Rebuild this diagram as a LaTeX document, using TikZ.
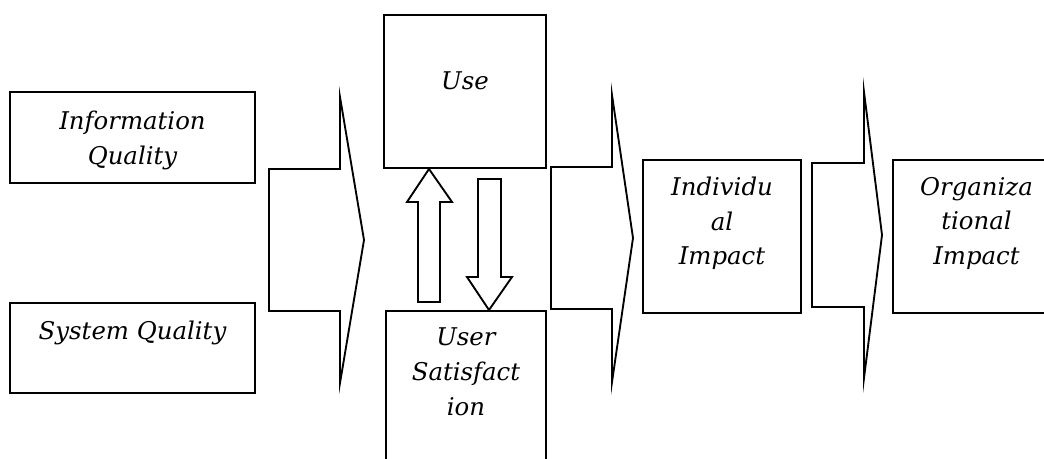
\documentclass[tikz,border=0pt]{standalone}
\usepackage{fontspec}
\setmainfont{DejaVu Serif}
\usepackage{tikz}
\usetikzlibrary{calc,fit,positioning}

\begin{document}
\begin{tikzpicture}[x=0.75pt,y=-0.75pt,line width=1.4pt]

\tikzset{box/.style={draw,inner sep=0pt,line join=miter},
lbl/.style={font=\fontsize{18.3}{26}\selectfont\itshape,align=center,inner sep=0pt,anchor=north},
blockarrow/.style={draw,line join=miter,miter limit=20}}

\useasboundingbox (0,0) rectangle (1044,459);

% Boxes
\node[box,fit={(10,92) (255,183)}] (info) {};
\node[box,fit={(10,303) (255,393)}] (sys) {};
\node[box,fit={(384,15) (546,168)}] (use) {};
\node[box,fit={(386,311) (546,475)}] (usat) {};
\node[box,fit={(643,160) (801,313)}] (indiv) {};
\node[box,fit={(893,160) (1062,313)}] (org) {};

% Labels
\node[lbl] (infoText) at ($(info.north)+(0,19)$) {Information\\Quality};
\node[lbl] (sysText) at ($(sys.north)+(0,18)$) {System Quality};
\node[lbl] (useText) at ($(use.north)+(0,57)$) {Use};
\node[lbl] (usatText) at ($(usat.north)+(0,17)$) {User\\Satisfact\\ion};
\node[lbl] (indivText) at ($(indiv.north)+(0,17)$) {Individu\\al\\Impact};
\node[lbl] (orgText) at ($(org.north)+(-1,17)$) {Organiza\\tional\\Impact};

% Big arrows
\foreach \xa/\ya/\yb/\xh/\yh/\yl/\xt/\yt in {269/169/311/340/97/383/364/240,
  551/167/309/612/95/382/633/238, 812/163/307/864/92/378/882/235}
  \draw[blockarrow] (\xa,\ya) -- (\xh,\ya) -- (\xh,\yh) -- (\xt,\yt) -- (\xh,\yl) -- (\xh,\yb) -- (\xa,\yb) -- cycle;

% Use <-> User Satisfaction
\draw[blockarrow] (418,302) -- (418,202) -- (407,202) -- (429,169) -- (452,202) -- (440,202) -- (440,302) -- cycle;
\draw[blockarrow] (478,179) -- (478,277) -- (467,277) -- (489,310) -- (512,277) -- (501,277) -- (501,179) -- cycle;

\end{tikzpicture}
\end{document}
